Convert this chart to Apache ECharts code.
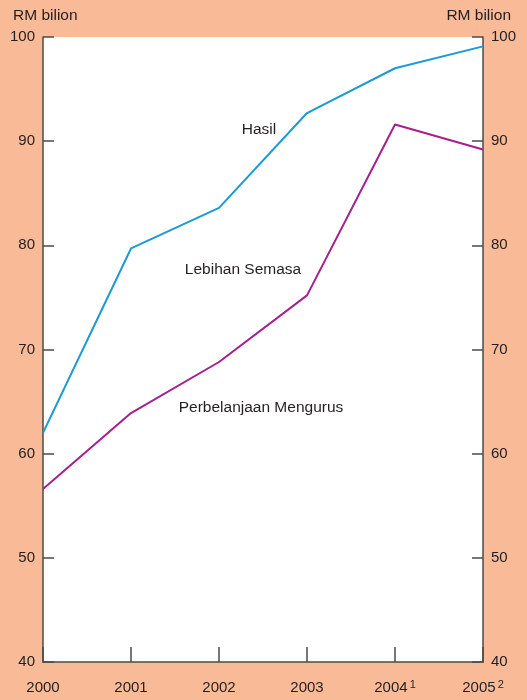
<!DOCTYPE html>
<html>
<head>
<meta charset="utf-8">
<script src="https://cdn.jsdelivr.net/npm/echarts@6/dist/echarts.min.js"></script>
<style>
  html, body { margin: 0; padding: 0; background: #f9ba97; }
  #chart { width: 527px; height: 700px; }
</style>
</head>
<body>
<div id="chart"></div>
<script>
// Hasil vs Perbelanjaan Mengurus, RM bilion

const years = ['2000', '2001', '2002', '2003', '2004', '2005'];
const yearNotes = ['', '', '', '', '1', '2'];
const hasil = [62.0, 79.7, 83.6, 92.7, 97.0, 99.1];
const perbelanjaan = [56.6, 63.9, 68.8, 75.2, 91.6, 89.2];
const unitLabel = 'RM bilion';
const seriesNames = ['Hasil', 'Perbelanjaan Mengurus'];
const annotations = ['Hasil', 'Lebihan Semasa', 'Perbelanjaan Mengurus'];

const FONT = 'Liberation Sans, Arial, sans-serif';
const INK = '#231f20';
const AXIS = '#4d4a4a';

const yAxisBase = {
  type: 'value',
  min: 40,
  max: 100,
  interval: 10,
  splitLine: { show: false },
  axisLine: { show: true, lineStyle: { color: AXIS, width: 1.5 } },
  axisTick: { show: true, inside: true, length: 11, lineStyle: { color: AXIS, width: 1.5 } },
  axisLabel: { color: INK, fontFamily: FONT, fontSize: 15, margin: 8 },
};

const chart = echarts.init(document.getElementById('chart'), null, { renderer: 'canvas' });
chart.setOption({
  backgroundColor: '#f9ba97',
  animation: false,
  grid: {
    left: 43, right: 44, top: 37, bottom: 38,
    show: true, backgroundColor: '#ffffff', borderWidth: 0,
  },
  xAxis: {
    type: 'category',
    data: years,
    boundaryGap: false,
    axisLine: { lineStyle: { color: AXIS, width: 1.5 } },
    axisTick: { inside: true, length: 15, interval: 0, lineStyle: { color: AXIS, width: 1.5 } },
    axisLabel: {
      interval: 0,
      margin: 17,
      color: INK,
      fontFamily: FONT,
      fontSize: 15,
      formatter: (v, i) => yearNotes[i] ? `{a|${v}}{s|${yearNotes[i]}}` : `{a|${v}}`,
      rich: {
        a: { color: INK, fontFamily: FONT, fontSize: 15, lineHeight: 16, verticalAlign: 'bottom' },
        s: { color: INK, fontFamily: FONT, fontSize: 11, lineHeight: 16, verticalAlign: 'top', padding: [0, 0, 0, 2] },
      },
    },
  },
  yAxis: [
    Object.assign({}, yAxisBase, { position: 'left' }),
    Object.assign({}, yAxisBase, { position: 'right' }),
  ],
  series: [
    {
      name: seriesNames[0],
      type: 'line',
      data: hasil,
      symbol: 'none',
      lineStyle: { color: '#1b9ad7', width: 2 },
    },
    {
      name: seriesNames[1],
      type: 'line',
      data: perbelanjaan,
      symbol: 'none',
      lineStyle: { color: '#a61f8e', width: 2 },
    },
  ],
  graphic: [
    { type: 'text', left: 13, top: 8, style: { text: unitLabel, fill: INK, font: `15.5px ${FONT}` } },
    { type: 'text', right: 16, top: 8, style: { text: unitLabel, fill: INK, font: `15.5px ${FONT}` } },
    { type: 'text', x: 259, y: 130, style: { text: annotations[0], fill: INK, font: `15.5px ${FONT}`, align: 'center', verticalAlign: 'middle' } },
    { type: 'text', x: 243, y: 270, style: { text: annotations[1], fill: INK, font: `15.5px ${FONT}`, align: 'center', verticalAlign: 'middle' } },
    { type: 'text', x: 261, y: 408, style: { text: annotations[2], fill: INK, font: `15.5px ${FONT}`, align: 'center', verticalAlign: 'middle' } },
  ],
});
</script>
</body>
</html>
